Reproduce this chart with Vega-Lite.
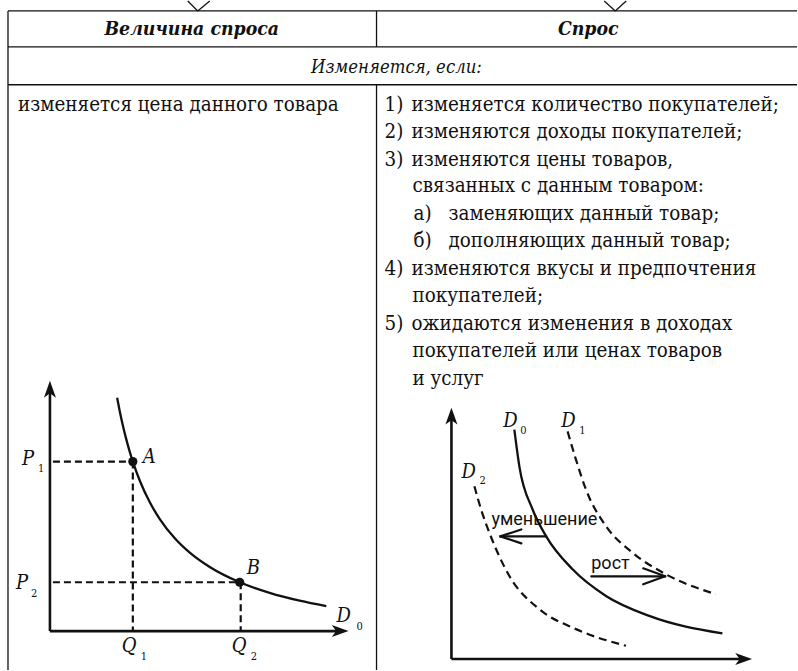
{
  "$schema": "https://vega.github.io/schema/vega-lite/v6.json",
  "width": 798,
  "height": 671,
  "autosize": {"type": "fit", "contains": "padding"},
  "padding": 0,
  "background": "white",
  "config": {"view": {"stroke": null}, "font": "DejaVu Serif Condensed"},
  "datasets": {
    "segments": [
      {"x": 8, "y": 10, "x2": 798, "y2": 10, "kind": "table"},
      {"x": 8, "y": 46, "x2": 798, "y2": 46, "kind": "table"},
      {"x": 8, "y": 84, "x2": 798, "y2": 84, "kind": "table"},
      {"x": 8, "y": 10, "x2": 8, "y2": 671, "kind": "table"},
      {"x": 377, "y": 10, "x2": 377, "y2": 46, "kind": "table"},
      {"x": 377, "y": 84, "x2": 377, "y2": 671, "kind": "table"},
      {"x": 188, "y": 0, "x2": 198, "y2": 10, "kind": "table"},
      {"x": 198, "y": 10, "x2": 210, "y2": 0, "kind": "table"},
      {"x": 605, "y": 0, "x2": 616, "y2": 10, "kind": "table"},
      {"x": 616, "y": 10, "x2": 627, "y2": 0, "kind": "table"},
      {"x": 50, "y": 390, "x2": 50, "y2": 632, "kind": "axis"},
      {"x": 50, "y": 632, "x2": 340, "y2": 632, "kind": "axis"},
      {"x": 452, "y": 417, "x2": 452, "y2": 660, "kind": "axis"},
      {"x": 452, "y": 660, "x2": 744, "y2": 660, "kind": "axis"},
      {"x": 53, "y": 462, "x2": 133, "y2": 462, "kind": "dash"},
      {"x": 133, "y": 462, "x2": 133, "y2": 632, "kind": "dash"},
      {"x": 53, "y": 583, "x2": 241, "y2": 583, "kind": "dash"},
      {"x": 241, "y": 583, "x2": 241, "y2": 632, "kind": "dash"},
      {"x": 547, "y": 537, "x2": 501, "y2": 537, "kind": "shift"},
      {"x": 501, "y": 537, "x2": 522, "y2": 530, "kind": "shift"},
      {"x": 501, "y": 537, "x2": 522, "y2": 544, "kind": "shift"},
      {"x": 592, "y": 577, "x2": 666, "y2": 577, "kind": "shift"},
      {"x": 666, "y": 577, "x2": 644, "y2": 569, "kind": "shift"},
      {"x": 666, "y": 577, "x2": 644, "y2": 585, "kind": "shift"}
    ],
    "curves": [
      {"curve": "L_D0", "dashed": false, "x": 117.3, "y": 398},
      {"curve": "L_D0", "dashed": false, "x": 120, "y": 412},
      {"curve": "L_D0", "dashed": false, "x": 123, "y": 425.7},
      {"curve": "L_D0", "dashed": false, "x": 126, "y": 437.9},
      {"curve": "L_D0", "dashed": false, "x": 130, "y": 452.4},
      {"curve": "L_D0", "dashed": false, "x": 133, "y": 462},
      {"curve": "L_D0", "dashed": false, "x": 140, "y": 481.2},
      {"curve": "L_D0", "dashed": false, "x": 150, "y": 502.8},
      {"curve": "L_D0", "dashed": false, "x": 160, "y": 519.6},
      {"curve": "L_D0", "dashed": false, "x": 175, "y": 538.9},
      {"curve": "L_D0", "dashed": false, "x": 190, "y": 553.3},
      {"curve": "L_D0", "dashed": false, "x": 210, "y": 567.7},
      {"curve": "L_D0", "dashed": false, "x": 240, "y": 583},
      {"curve": "L_D0", "dashed": false, "x": 270, "y": 593.6},
      {"curve": "L_D0", "dashed": false, "x": 300, "y": 601.5},
      {"curve": "L_D0", "dashed": false, "x": 326.7, "y": 607},
      {"curve": "R_D0", "dashed": false, "x": 515, "y": 430},
      {"curve": "R_D0", "dashed": false, "x": 520, "y": 466.7},
      {"curve": "R_D0", "dashed": false, "x": 533.3, "y": 510},
      {"curve": "R_D0", "dashed": false, "x": 546.7, "y": 536.7},
      {"curve": "R_D0", "dashed": false, "x": 573.3, "y": 570},
      {"curve": "R_D0", "dashed": false, "x": 606.7, "y": 596.7},
      {"curve": "R_D0", "dashed": false, "x": 650, "y": 616.7},
      {"curve": "R_D0", "dashed": false, "x": 723.3, "y": 634.3},
      {"curve": "R_D1", "dashed": true, "x": 568.3, "y": 431.7},
      {"curve": "R_D1", "dashed": true, "x": 576.7, "y": 460},
      {"curve": "R_D1", "dashed": true, "x": 586.7, "y": 490},
      {"curve": "R_D1", "dashed": true, "x": 606.7, "y": 526.7},
      {"curve": "R_D1", "dashed": true, "x": 633.3, "y": 553.3},
      {"curve": "R_D1", "dashed": true, "x": 666.7, "y": 575},
      {"curve": "R_D1", "dashed": true, "x": 716.7, "y": 595},
      {"curve": "R_D2", "dashed": true, "x": 475, "y": 486.7},
      {"curve": "R_D2", "dashed": true, "x": 481.7, "y": 510},
      {"curve": "R_D2", "dashed": true, "x": 490, "y": 533.3},
      {"curve": "R_D2", "dashed": true, "x": 510, "y": 576.7},
      {"curve": "R_D2", "dashed": true, "x": 540, "y": 610},
      {"curve": "R_D2", "dashed": true, "x": 576.7, "y": 630},
      {"curve": "R_D2", "dashed": true, "x": 626.7, "y": 646.7}
    ],
    "dots": [
      {"name": "A", "x": 133, "y": 462},
      {"name": "B", "x": 240, "y": 583}
    ],
    "heads": [
      {"axis": "P", "x": 50, "y": 381},
      {"axis": "Q", "x": 349, "y": 632},
      {"axis": "P", "x": 452, "y": 408},
      {"axis": "Q", "x": 753, "y": 660}
    ],
    "texts": [
      {"kind": "head", "t": "Величина спроса", "x": 192, "y": 34},
      {"kind": "head", "t": "Спрос", "x": 589, "y": 34},
      {"kind": "sub", "t": "Изменяется, если:", "x": 397, "y": 72},
      {"kind": "body", "t": "изменяется цена данного товара", "x": 18, "y": 110},
      {"kind": "body", "t": "1)", "x": 385, "y": 110},
      {"kind": "body", "t": "изменяется количество покупателей;", "x": 412, "y": 110},
      {"kind": "body", "t": "2)", "x": 385, "y": 137},
      {"kind": "body", "t": "изменяются доходы покупателей;", "x": 412, "y": 137},
      {"kind": "body", "t": "3)", "x": 385, "y": 165},
      {"kind": "body", "t": "изменяются цены товаров,", "x": 412, "y": 165},
      {"kind": "body", "t": "связанных с данным товаром:", "x": 413, "y": 192},
      {"kind": "body", "t": "а)", "x": 414, "y": 220},
      {"kind": "body", "t": "заменяющих данный товар;", "x": 449, "y": 220},
      {"kind": "body", "t": "б)", "x": 414, "y": 247},
      {"kind": "body", "t": "дополняющих данный товар;", "x": 449, "y": 247},
      {"kind": "body", "t": "4)", "x": 385, "y": 275},
      {"kind": "body", "t": "изменяются вкусы и предпочтения", "x": 412, "y": 275},
      {"kind": "body", "t": "покупателей;", "x": 413, "y": 302},
      {"kind": "body", "t": "5)", "x": 385, "y": 330},
      {"kind": "body", "t": "ожидаются изменения в доходах", "x": 412, "y": 330},
      {"kind": "body", "t": "покупателей или ценах товаров", "x": 413, "y": 357},
      {"kind": "body", "t": "и услуг", "x": 413, "y": 385},
      {"kind": "lab", "t": "P", "x": 22, "y": 465},
      {"kind": "lab", "t": "P", "x": 16, "y": 590},
      {"kind": "lab", "t": "A", "x": 143, "y": 463},
      {"kind": "lab", "t": "B", "x": 247, "y": 575},
      {"kind": "lab", "t": "Q", "x": 122, "y": 653},
      {"kind": "lab", "t": "Q", "x": 232, "y": 653},
      {"kind": "lab", "t": "D", "x": 337, "y": 623},
      {"kind": "lab", "t": "D", "x": 504, "y": 427},
      {"kind": "lab", "t": "D", "x": 562, "y": 427},
      {"kind": "lab", "t": "D", "x": 462, "y": 478},
      {"kind": "idx", "t": "1", "x": 38, "y": 472},
      {"kind": "idx", "t": "2", "x": 31, "y": 598},
      {"kind": "idx", "t": "1", "x": 141, "y": 661},
      {"kind": "idx", "t": "2", "x": 251, "y": 661},
      {"kind": "idx", "t": "0", "x": 357, "y": 631},
      {"kind": "idx", "t": "0", "x": 521, "y": 434},
      {"kind": "idx", "t": "1", "x": 580, "y": 434},
      {"kind": "idx", "t": "2", "x": 480, "y": 484},
      {"kind": "sans", "t": "уменьшение", "x": 492, "y": 526},
      {"kind": "sans", "t": "рост", "x": 592, "y": 570}
    ]
  },
  "layer": [
    {
      "data": {"name": "segments"},
      "transform": [{"filter": "datum.kind === 'table'"}],
      "mark": {"type": "rule", "stroke": "#111", "strokeWidth": 1.3},
      "encoding": {
        "x": {"field": "x", "type": "quantitative", "scale": {"domain": [0, 798], "nice": false, "zero": false}, "axis": null},
        "y": {"field": "y", "type": "quantitative", "scale": {"domain": [0, 671], "reverse": true, "nice": false, "zero": false}, "axis": null},
        "x2": {"field": "x2"},
        "y2": {"field": "y2"}
      }
    },
    {
      "data": {"name": "segments"},
      "transform": [{"filter": "datum.kind === 'axis'"}],
      "mark": {"type": "rule", "stroke": "#111", "strokeWidth": 2.6},
      "encoding": {
        "x": {"field": "x", "type": "quantitative", "axis": null},
        "y": {"field": "y", "type": "quantitative", "axis": null},
        "x2": {"field": "x2"},
        "y2": {"field": "y2"}
      }
    },
    {
      "data": {"name": "segments"},
      "transform": [{"filter": "datum.kind === 'dash'"}],
      "mark": {"type": "rule", "stroke": "#111", "strokeWidth": 2.2, "strokeDash": [7, 4]},
      "encoding": {
        "x": {"field": "x", "type": "quantitative", "axis": null},
        "y": {"field": "y", "type": "quantitative", "axis": null},
        "x2": {"field": "x2"},
        "y2": {"field": "y2"}
      }
    },
    {
      "data": {"name": "segments"},
      "transform": [{"filter": "datum.kind === 'shift'"}],
      "mark": {"type": "rule", "stroke": "#111", "strokeWidth": 2.2, "strokeCap": "round"},
      "encoding": {
        "x": {"field": "x", "type": "quantitative", "axis": null},
        "y": {"field": "y", "type": "quantitative", "axis": null},
        "x2": {"field": "x2"},
        "y2": {"field": "y2"}
      }
    },
    {
      "data": {"name": "curves"},
      "transform": [{"filter": "!datum.dashed"}],
      "mark": {"type": "line", "stroke": "#111", "strokeWidth": 2.3, "interpolate": "monotone"},
      "encoding": {
        "x": {"field": "x", "type": "quantitative", "axis": null},
        "y": {"field": "y", "type": "quantitative", "axis": null},
        "detail": {"field": "curve"}
      }
    },
    {
      "data": {"name": "curves"},
      "transform": [{"filter": "datum.dashed"}],
      "mark": {"type": "line", "stroke": "#111", "strokeWidth": 2.2, "strokeDash": [8, 5], "interpolate": "monotone"},
      "encoding": {
        "x": {"field": "x", "type": "quantitative", "axis": null},
        "y": {"field": "y", "type": "quantitative", "axis": null},
        "detail": {"field": "curve"}
      }
    },
    {
      "data": {"name": "dots"},
      "mark": {"type": "point", "shape": "circle", "filled": true, "color": "#111", "opacity": 1, "size": 85},
      "encoding": {
        "x": {"field": "x", "type": "quantitative", "axis": null},
        "y": {"field": "y", "type": "quantitative", "axis": null}
      }
    },
    {
      "data": {"name": "heads"},
      "transform": [{"filter": "datum.axis === 'P'"}],
      "mark": {"type": "point", "shape": "M0,0L1.5,4.2L0,3.1L-1.5,4.2Z", "filled": true, "color": "#111", "opacity": 1, "size": 64, "angle": 0},
      "encoding": {
        "x": {"field": "x", "type": "quantitative", "axis": null},
        "y": {"field": "y", "type": "quantitative", "axis": null}
      }
    },
    {
      "data": {"name": "heads"},
      "transform": [{"filter": "datum.axis === 'Q'"}],
      "mark": {"type": "point", "shape": "M0,0L1.5,4.2L0,3.1L-1.5,4.2Z", "filled": true, "color": "#111", "opacity": 1, "size": 64, "angle": 90},
      "encoding": {
        "x": {"field": "x", "type": "quantitative", "axis": null},
        "y": {"field": "y", "type": "quantitative", "axis": null}
      }
    },
    {
      "data": {"name": "texts"},
      "transform": [{"filter": "datum.kind === 'head'"}],
      "mark": {"type": "text", "font": "DejaVu Serif Condensed", "fontSize": 19.3, "fontWeight": "bold", "fontStyle": "italic", "align": "center", "baseline": "alphabetic", "color": "#111"},
      "encoding": {
        "x": {"field": "x", "type": "quantitative", "axis": null},
        "y": {"field": "y", "type": "quantitative", "axis": null},
        "text": {"field": "t"}
      }
    },
    {
      "data": {"name": "texts"},
      "transform": [{"filter": "datum.kind === 'sub'"}],
      "mark": {"type": "text", "font": "DejaVu Serif Condensed", "fontSize": 18.4, "fontStyle": "italic", "align": "center", "baseline": "alphabetic", "color": "#111"},
      "encoding": {
        "x": {"field": "x", "type": "quantitative", "axis": null},
        "y": {"field": "y", "type": "quantitative", "axis": null},
        "text": {"field": "t"}
      }
    },
    {
      "data": {"name": "texts"},
      "transform": [{"filter": "datum.kind === 'body'"}],
      "mark": {"type": "text", "font": "DejaVu Serif Condensed", "fontSize": 20.4, "align": "left", "baseline": "alphabetic", "color": "#111"},
      "encoding": {
        "x": {"field": "x", "type": "quantitative", "axis": null},
        "y": {"field": "y", "type": "quantitative", "axis": null},
        "text": {"field": "t"}
      }
    },
    {
      "data": {"name": "texts"},
      "transform": [{"filter": "datum.kind === 'lab'"}],
      "mark": {"type": "text", "font": "DejaVu Serif Condensed", "fontSize": 20, "fontStyle": "italic", "align": "left", "baseline": "alphabetic", "color": "#111"},
      "encoding": {
        "x": {"field": "x", "type": "quantitative", "axis": null},
        "y": {"field": "y", "type": "quantitative", "axis": null},
        "text": {"field": "t"}
      }
    },
    {
      "data": {"name": "texts"},
      "transform": [{"filter": "datum.kind === 'idx'"}],
      "mark": {"type": "text", "font": "DejaVu Serif Condensed", "fontSize": 11, "align": "left", "baseline": "alphabetic", "color": "#111"},
      "encoding": {
        "x": {"field": "x", "type": "quantitative", "axis": null},
        "y": {"field": "y", "type": "quantitative", "axis": null},
        "text": {"field": "t"}
      }
    },
    {
      "data": {"name": "texts"},
      "transform": [{"filter": "datum.kind === 'sans'"}],
      "mark": {"type": "text", "font": "Roboto", "fontSize": 18, "align": "left", "baseline": "alphabetic", "color": "#111"},
      "encoding": {
        "x": {"field": "x", "type": "quantitative", "axis": null},
        "y": {"field": "y", "type": "quantitative", "axis": null},
        "text": {"field": "t"}
      }
    }
  ]
}
